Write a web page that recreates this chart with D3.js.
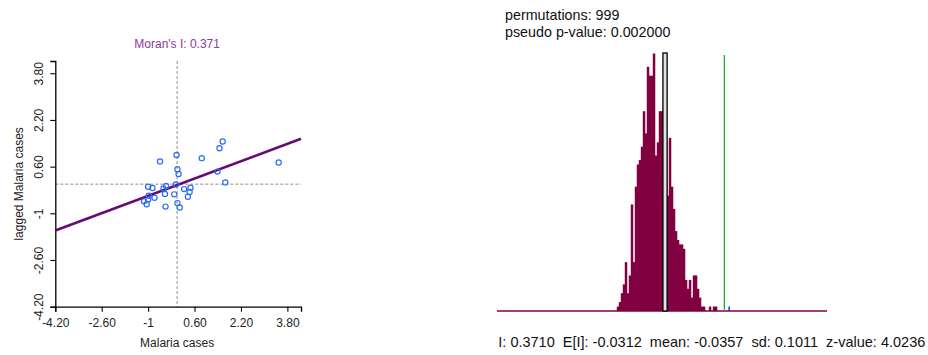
<!DOCTYPE html>
<html>
<head>
<meta charset="utf-8">
<script src="https://cdn.jsdelivr.net/npm/d3@7"></script>
<style>
  html, body { margin: 0; padding: 0; background: #fff; }
  svg { display: block; font-family: "Liberation Sans", Arial, sans-serif; }
</style>
</head>
<body>
<svg id="chart" width="928" height="355"></svg>
<script>
// ---- Moran scatter plot data (standardized values) ----
const malariaZ = [-0.59, -0.02, 0.85, 1.46, 1.57, 3.50, 0.01, 0.05, 1.39, 1.66,
                  -0.04, -1.00, -0.85, -0.47, -0.38, 0.24, 0.46, 0.43, 0.37, -0.10,
                  -0.42, -0.98, -0.78, -1.14, -1.05, -1.00, -0.40, 0.01, 0.09];
const laggedZ  = [0.78, 1.00, 0.89, 1.23, 1.46, 0.74, 0.51, 0.35, 0.43, 0.06,
                  -0.01, -0.09, -0.13, -0.15, -0.06, -0.17, -0.12, -0.27, -0.43, -0.35,
                  -0.34, -0.40, -0.47, -0.59, -0.69, -0.53, -0.77, -0.65, -0.80];
const axisTicks = [-4.2, -2.6, -1, 0.6, 2.2, 3.8];
const axisTickLabels = ["-4.20", "-2.60", "-1", "0.60", "2.20", "3.80"];
const moranI = 0.371;
const fitIntercept = -0.03;

// ---- Permutation reference distribution ----
const permutations = 999;
const pseudoP = 0.002;
const binStart = -0.365;
const binWidth = 0.01372;
const permCounts = [1, 2, 4, 6, 11, 4, 8, 24, 11, 28,
                    33, 34, 37, 45, 40, 55, 53, 53, 58, 35,
                    38, 45, 45, 46, 38, 26, 39, 28, 23, 18,
                    16, 15, 15, 14, 7, 5, 7, 3, 8, 8,
                    5, 3, 1, 1, 0, 0, 1, 0, 1, 1];
const observedBin = { x0: 0.399, x1: 0.4095, count: 1 };
const expectedI = -0.0312;
const permMean = -0.0357;
const permSd = 0.1011;
const zValue = 4.0236;

const svg = d3.select("#chart");

// ================= Left: Moran scatter plot =================
const sx = d3.scaleLinear().domain([-4.2, 4.27]).range([55.3, 301]);
const sy = d3.scaleLinear().domain([-4.2, 4.22]).range([306.7, 61]);

const left = svg.append("g");

// quadrant reference lines through the means
left.append("line")
  .attr("x1", sx(0)).attr("x2", sx(0))
  .attr("y1", sy.range()[1]).attr("y2", sy.range()[0])
  .attr("stroke", "#8c8c8c").attr("stroke-width", 1)
  .attr("stroke-dasharray", "3,2");
left.append("line")
  .attr("x1", sx.range()[0]).attr("x2", sx.range()[1])
  .attr("y1", sy(0)).attr("y2", sy(0))
  .attr("stroke", "#8c8c8c").attr("stroke-width", 1)
  .attr("stroke-dasharray", "3,2");

// axes
const xAxis = d3.axisBottom(sx).tickValues(axisTicks)
  .tickFormat((d, i) => axisTickLabels[i]).tickSizeOuter(0).tickSize(5).tickPadding(7);
const yAxis = d3.axisLeft(sy).tickValues(axisTicks)
  .tickFormat((d, i) => axisTickLabels[i]).tickSizeOuter(0).tickSize(5);

const gx = left.append("g").attr("transform", `translate(0,${sy.range()[0]})`).call(xAxis);
const gy = left.append("g").attr("transform", `translate(${sx.range()[0]},0)`).call(yAxis);
[gx, gy].forEach(g => {
  g.select(".domain").attr("stroke", "#000").attr("stroke-width", 1.3);
  g.selectAll(".tick line").attr("stroke", "#000").attr("stroke-width", 1.1);
  g.selectAll(".tick text").attr("fill", "#222").attr("font-size", 12)
    .attr("font-family", "Liberation Sans, Arial, sans-serif");
});
gy.selectAll(".tick text")
  .attr("transform", "rotate(-90)")
  .attr("x", 0).attr("y", -12.6).attr("dy", 0)
  .attr("text-anchor", "middle");

// regression line, slope = Moran's I
const xd = sx.domain();
left.append("line")
  .attr("x1", sx(xd[0])).attr("y1", sy(fitIntercept + moranI * xd[0]))
  .attr("x2", sx(xd[1])).attr("y2", sy(fitIntercept + moranI * xd[1]))
  .attr("stroke", "#670a78").attr("stroke-width", 2.6);

// observations
left.append("g").selectAll("circle")
  .data(malariaZ.map((v, i) => [v, laggedZ[i]]))
  .join("circle")
  .attr("cx", d => sx(d[0])).attr("cy", d => sy(d[1]))
  .attr("r", 2.6)
  .attr("fill", "none").attr("stroke", "#2e6df5").attr("stroke-width", 1.2);

// titles
left.append("text")
  .attr("x", sx(0)).attr("y", 48.3)
  .attr("text-anchor", "middle").attr("font-size", 12)
  .attr("fill", "#8b3a98")
  .text(`Moran's I: ${moranI}`);
left.append("text")
  .attr("x", sx(0)).attr("y", 347)
  .attr("text-anchor", "middle").attr("font-size", 12).attr("fill", "#222")
  .text("Malaria cases");
left.append("text")
  .attr("transform", `translate(22.7,${(sy.range()[0] + sy.range()[1]) / 2}) rotate(-90)`)
  .attr("text-anchor", "middle").attr("font-size", 12).attr("fill", "#222")
  .text("lagged Malaria cases");

// ================= Right: permutation histogram =================
const hx = d3.scaleLinear().domain([-1.188, 1.075]).range([497, 827]);
const hy = d3.scaleLinear().domain([0, 58]).range([311, 53.5]);
const right = svg.append("g");

const bins = permCounts.map((c, i) => ({
  x0: binStart + i * binWidth,
  x1: binStart + (i + 1) * binWidth,
  count: c
}));

// bars overlap slightly so neighbouring bins join without seams
right.append("g").selectAll("rect")
  .data(bins.filter(b => b.count > 0))
  .join("rect")
  .attr("x", d => hx(d.x0) - 0.25)
  .attr("width", d => hx(d.x1) - hx(d.x0) + 0.5)
  .attr("y", d => hy(d.count))
  .attr("height", d => hy(0) - hy(d.count))
  .attr("fill", "#800040");

// bin holding the observed statistic
right.append("rect")
  .attr("x", hx(observedBin.x0))
  .attr("width", hx(observedBin.x1) - hx(observedBin.x0))
  .attr("y", hy(observedBin.count))
  .attr("height", hy(0) - hy(observedBin.count))
  .attr("fill", "#1a33ff");

// baseline
right.append("line")
  .attr("x1", hx.range()[0]).attr("x2", hx.range()[1])
  .attr("y1", hy(0)).attr("y2", hy(0))
  .attr("stroke", "#800040").attr("stroke-width", 1.4);

// mean of the permutations
right.append("rect")
  .attr("x", hx(permMean) - 2.1).attr("width", 4.2)
  .attr("y", 53).attr("height", hy(0) - 53)
  .attr("fill", "#e2e2e2").attr("stroke", "#000").attr("stroke-width", 1.3);

// observed Moran's I
right.append("line")
  .attr("x1", hx(moranI)).attr("x2", hx(moranI))
  .attr("y1", 55).attr("y2", hy(0))
  .attr("stroke", "#1fae3a").attr("stroke-width", 1.3);

// annotation text
right.append("text")
  .attr("x", 505).attr("y", 20).attr("font-size", 14.3).attr("fill", "#111")
  .text(`permutations: ${permutations}`);
right.append("text")
  .attr("x", 505).attr("y", 37).attr("font-size", 14.3).attr("fill", "#111")
  .text(`pseudo p-value: ${pseudoP.toFixed(6)}`);
right.append("text")
  .attr("x", 498.3).attr("y", 346.7).attr("font-size", 14.5).attr("fill", "#111")
  .attr("xml:space", "preserve")
  .text(`I: ${moranI.toFixed(4)}  E[I]: ${expectedI.toFixed(4)}  mean: ${permMean.toFixed(4)}  sd: ${permSd.toFixed(4)}  z-value: ${zValue.toFixed(4)}`);
</script>
</body>
</html>
